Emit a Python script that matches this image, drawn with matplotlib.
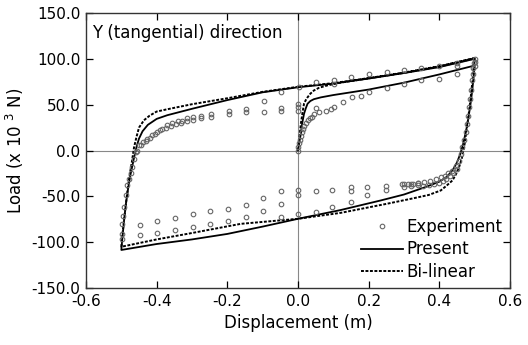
import matplotlib
matplotlib.use("Agg")
import matplotlib.pyplot as plt
import numpy as np

plt.rcParams['font.family'] = ['DejaVu Sans']
plt.rcParams['axes.unicode_minus'] = False

# ---- Experiment (markers) ----
exp_x = [0, 0, 0.003, 0.005, 0.008, 0.011, 0.014, 0.017, 0.022, 0.027, 0.033, 0.04, 0.045, 0.06, 0.078, 0.093, 0.102,
         0.126, 0.154, 0.177, 0.2, 0.253, 0.3, 0.347, 0.4, 0.451, 0.5,
         0.5, 0.498, 0.496, 0.494, 0.492, 0.489, 0.487, 0.484, 0.481, 0.479, 0.475, 0.47, 0.465, 0.46, 0.456, 0.448,
         0.437, 0.425, 0.415, 0.404, 0.39, 0.375, 0.357, 0.34, 0.325, 0.31, 0.295,
         0.45, 0.44, 0.43, 0.42, 0.41, 0.40, 0.385, 0.37, 0.355,
         0.3, 0.3, 0.32, 0.32, 0.34, 0.34,
         0.248, 0.248, 0.196, 0.196, 0.149, 0.149, 0.097, 0.05, 0, 0, -0.049,
         0.149, 0.097, 0.05, 0, -0.049, -0.049, -0.1, -0.1, -0.148, -0.148, -0.198, -0.198, -0.249, -0.249,
         -0.296, -0.296, -0.349, -0.349, -0.398, -0.398, -0.447, -0.447,
         -0.499, -0.499, -0.497, -0.495, -0.492, -0.488, -0.483, -0.478, -0.473, -0.469, -0.464, -0.459, -0.45,
         -0.44, -0.426, -0.412, -0.398, -0.384, -0.37, -0.356, -0.341, -0.327, -0.313, -0.296,
         -0.455, -0.445, -0.43, -0.42, -0.405, -0.39, -0.375, -0.36, -0.345, -0.33,
         -0.296, -0.313, -0.275, -0.275, -0.247, -0.247, -0.195, -0.195, -0.148, -0.148, -0.096, -0.096,
         -0.047, -0.047, -0.047, 0, 0, 0, 0.003, 0.05, 0.05, 0.102, 0.102, 0.149, 0.2, 0.253, 0.3, 0.347,
         0.4, 0.451, 0.451, 0.5]
exp_y = [0, 4, 8, 12, 16, 20, 23, 27, 30, 33, 35, 37, 40, 41.8, 43.6, 45.5, 48,
         52.7, 58, 60, 63.6, 68.4, 72.7, 76.4, 78.2, 83.6, 92,
         100, 95, 90, 84, 77, 66, 56, 47, 38, 29, 20, 11, 4, -3.5, -11, -17,
         -22, -25, -28, -29, -31, -33, -34.5, -35, -36, -36, -36.5,
         -20, -25, -28, -31, -33, -35, -37, -38, -39,
         -37, -40, -36, -39, -35, -38,
         -39, -43, -40, -49, -40, -44.4, -43.6, -44.4, -43, -48.4, -44.4,
         -56.4, -61.8, -67, -69, -58, -72.7, -52, -65.5, -59, -72.7, -63.6, -77, -66.5, -80,
         -69.8, -83, -73.5, -86.5, -77, -90, -81.8, -92,
         -96, -91, -80, -71, -62, -49, -38, -31, -24, -18, -9, -2, 5.5,
         9, 12.7, 16.4, 20, 23.6, 27.3, 29.8, 32, 32, 32.7, 33.5,
         0, 6, 10, 14, 18, 22, 25, 27, 29, 30,
         36.5, 35.5, 35, 38, 36.4, 39.5, 40, 43, 42, 45, 42.5, 54.5,
         43.6, 46.5, 63.6, 43.6, 47, 51, 69.8, 46.5, 74.5, 73, 76.4, 80, 83, 85.4, 87.3, 89.8,
         92, 92.7, 96, 97]

# ---- Present (solid) ----
pre_x = [0, 0.004, 0.008, 0.012, 0.017, 0.022, 0.027, 0.035, 0.045, 0.065, 0.1, 0.2, 0.3, 0.4, 0.5,
         0.497, 0.493, 0.488, 0.482, 0.476, 0.468, 0.46, 0.45, 0.437, 0.42, 0.4, 0.36, 0.3, 0.234, 0.12, 0,
         -0.1, -0.2, -0.3, -0.4, -0.5,
         -0.497, -0.492, -0.487, -0.481, -0.475, -0.469, -0.463, -0.457, -0.45, -0.44, -0.425, -0.4, -0.37,
         -0.3, -0.2, -0.1, 0, 0.1, 0.2, 0.3, 0.4, 0.5, 0.497]
pre_y = [0, 10, 18, 30, 40, 46, 51, 54, 56, 58, 60.5, 66.5, 74, 83, 92.7,
         80, 65, 50, 35, 22, 8, -3, -13, -22, -29, -34, -40, -48, -54.5, -65, -74.5,
         -83, -91, -97, -102, -108.5,
         -95, -75, -58, -42, -28, -17, -6, 4, 13, 21, 28, 34.5, 38.5,
         45.5, 55, 63.5, 69, 73, 78.5, 84.5, 91, 100, 88]

# ---- Bi-linear (dashed) ----
bil_x = [0, 0.004, 0.008, 0.013, 0.017, 0.022, 0.027, 0.035, 0.045, 0.06, 0.083, 0.12, 0.2, 0.3, 0.4, 0.5,
         0.495, 0.488, 0.48, 0.472, 0.464, 0.456, 0.447, 0.437, 0.42, 0.404, 0.37, 0.328, 0.253, 0.121, 0,
         -0.162, -0.3, -0.4, -0.5,
         -0.497, -0.49, -0.484, -0.477, -0.47, -0.464, -0.457, -0.45, -0.436, -0.42, -0.4, -0.37,
         -0.3, -0.2, -0.1, 0, 0.1, 0.2, 0.3, 0.4, 0.5]
bil_y = [0, 14, 29, 42, 51, 55, 58, 62, 65.5, 68.5, 71, 74, 78.7, 84.7, 91.5, 100.5,
         80, 55, 30, 8, -8, -18, -26, -32.7, -38.5, -43.6, -48.5, -52, -58, -68, -74.5,
         -80, -90, -97, -105,
         -92, -68, -48, -28, -12, 3.6, 15, 25, 33, 38, 42.5, 45,
         50.5, 57, 64, 69.5, 73.5, 79, 85, 92, 101]

x_ticks = [-0.6, -0.4, -0.2, 0.0, 0.2, 0.4, 0.6]
y_ticks = [-150, -100, -50, 0, 50, 100, 150]

fig = plt.figure(figsize=(5.28, 3.45), dpi=100)
ax = fig.add_axes([0.1629, 0.1652, 0.9659 - 0.1629, 0.9623 - 0.1652])

ax.axhline(0, color='#888888', lw=0.8, zorder=1)
ax.axvline(0, color='#888888', lw=0.8, zorder=1)

ax.plot(exp_x, exp_y, linestyle='none', marker='o', markersize=3.3, markerfacecolor='none',
        markeredgecolor='#666666', markeredgewidth=0.8, label='Experiment', zorder=3)
ax.plot(pre_x, pre_y, color='black', lw=1.3, label='Present', zorder=2)
ax.plot(bil_x, bil_y, color='black', lw=1.4, linestyle=(0, (1.5, 0.8)), label='Bi-linear', zorder=2)

ax.set_xlim(-0.6, 0.6)
ax.set_ylim(-150, 150)
ax.set_xticks(x_ticks)
ax.set_yticks(y_ticks)
ax.set_xticklabels(['%.1f' % v for v in x_ticks])
ax.set_yticklabels(['%.1f' % v for v in y_ticks])
ax.tick_params(direction='in', length=5, width=0.9, top=True, right=True, labelsize=11, pad=4)
for s in ax.spines.values():
    s.set_linewidth(1.0)
    s.set_color('#333333')

ax.set_xlabel('Displacement (m)', fontsize=12, labelpad=4)
ax.set_ylabel('Load (x 10 $^3$ N)', fontsize=12, labelpad=4)
ax.text(0.015, 0.96, 'Y (tangential) direction', transform=ax.transAxes, fontsize=12,
        ha='left', va='top')

leg = ax.legend(loc='lower right', frameon=False, fontsize=12, handlelength=2.5, handletextpad=0.2,
                labelspacing=0.25, borderaxespad=0.05, markerscale=1.0)

fig.savefig('out.png', dpi=100)
